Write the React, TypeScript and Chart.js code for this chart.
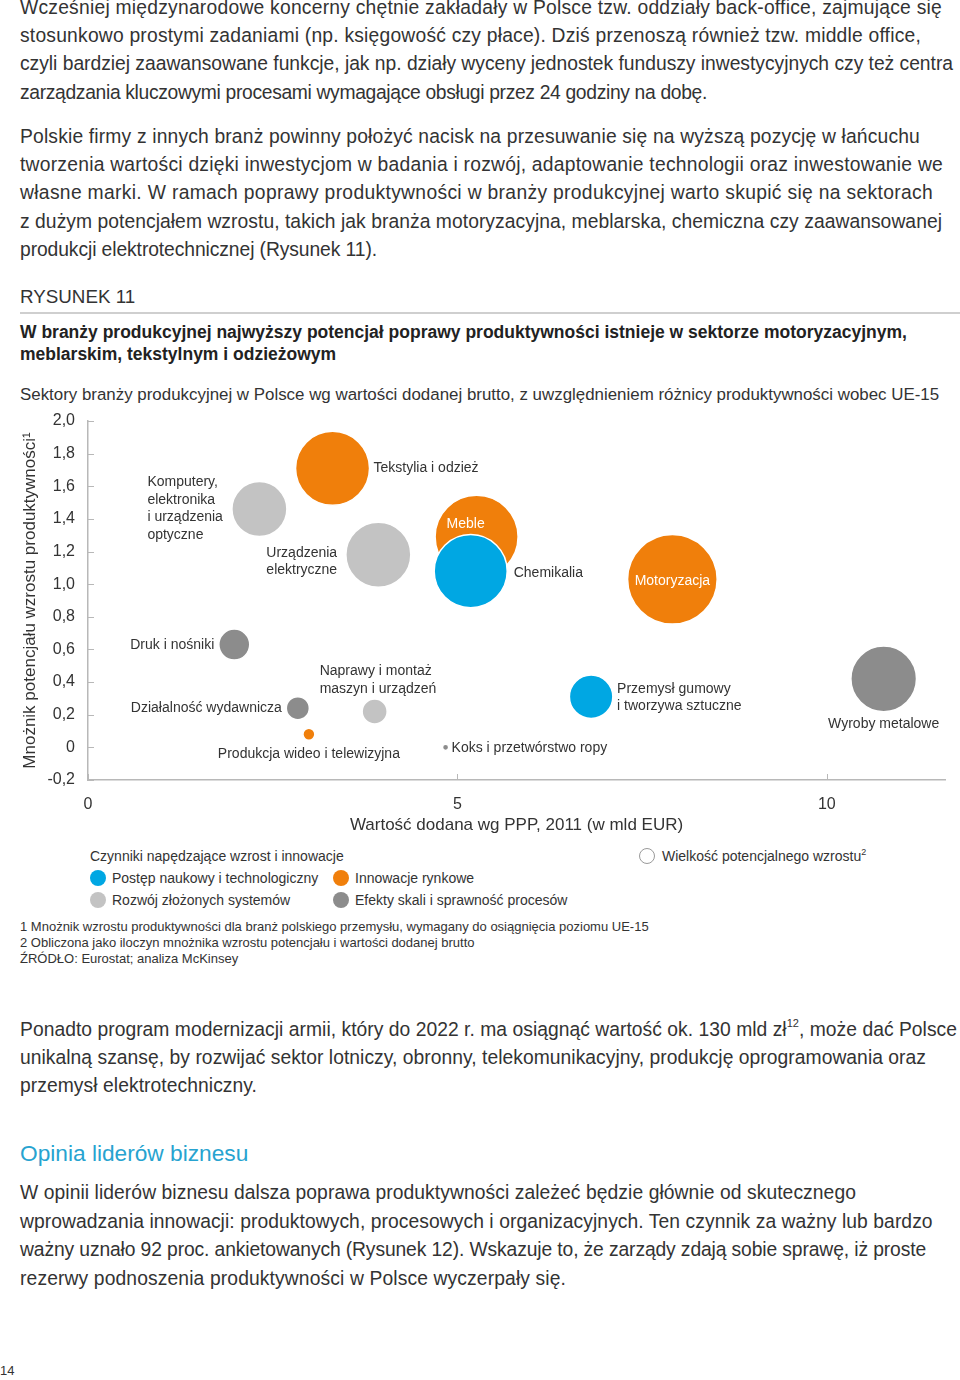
import React, { useEffect, useRef } from "react";
import { Chart, registerables } from "chart.js";

Chart.register(...registerables);

// ---------------- DATA ----------------
const sectorLabels: string[][] = [
  ["Tekstylia i odzież"],
  ["Komputery,", "elektronika", "i urządzenia", "optyczne"],
  ["Urządzenia", "elektryczne"],
  ["Meble"],
  ["Chemikalia"],
  ["Motoryzacja"],
  ["Druk i nośniki"],
  ["Działalność wydawnicza"],
  ["Naprawy i montaż", "maszyn i urządzeń"],
  ["Produkcja wideo i telewizyjna"],
  ["Koks i przetwórstwo ropy"],
  ["Przemysł gumowy", "i tworzywa sztuczne"],
  ["Wyroby metalowe"],
];
// Wartość dodana wg PPP, 2011 (mld EUR)
const valueAdded = [3.31, 2.32, 3.93, 5.26, 5.18, 7.91, 1.98, 2.84, 3.88, 2.99, 4.84, 6.81, 10.77];
// Mnożnik potencjału wzrostu produktywności
const multiplier = [1.71, 1.46, 1.18, 1.29, 1.08, 1.03, 0.63, 0.24, 0.22, 0.08, 0.0, 0.31, 0.42];
// Wielkość potencjalnego wzrostu
const growthPotential = [5.77, 3.19, 4.45, 7.26, 5.62, 8.46, 1.01, 0.56, 0.66, 0.15, 0.04, 1.99, 4.54];
// driver index: 0 = naukowy, 1 = rynkowe, 2 = systemy, 3 = skala
const driver = [1, 2, 2, 1, 0, 1, 3, 3, 2, 1, 3, 0, 3];
const driverNames = [
  "Postęp naukowy i technologiczny",
  "Innowacje rynkowe",
  "Rozwój złożonych systemów",
  "Efekty skali i sprawność procesów",
];
const yTickValues = [-0.2, 0, 0.2, 0.4, 0.6, 0.8, 1.0, 1.2, 1.4, 1.6, 1.8, 2.0];
const yTickLabels = ["-0,2", "0", "0,2", "0,4", "0,6", "0,8", "1,0", "1,2", "1,4", "1,6", "1,8", "2,0"];
const xTickValues = [0, 5, 10];
const xTickLabels = ["0", "5", "10"];

// ---------------- STYLE / LAYOUT ----------------
const driverColors = ["#00A7E3", "#F07F0B", "#C3C3C3", "#8C8C8C"];
const RADIUS_K = 15.4;
const labelLayout = [
  { dx: 41, dy: 0, align: "left" },
  { dx: -112, dy: -27, align: "left" },
  { dx: -112, dy: -2, align: "left" },
  { dx: -30, dy: -13, align: "left", inside: true },
  { dx: 43, dy: 2, align: "left" },
  { dx: 0, dy: 2, align: "center", inside: true },
  { dx: -20, dy: 1, align: "right" },
  { dx: -16, dy: 0, align: "right" },
  { dx: -55, dy: -40, align: "left" },
  { dx: 0, dy: 20, align: "center" },
  { dx: 6, dy: 1, align: "left" },
  { dx: 26, dy: -8, align: "left" },
  { dx: 0, dy: 45, align: "center" },
];
const FONT = '"Liberation Sans", Arial, Helvetica, sans-serif';
const TEXT = "#333333";
const AXIS = "#B8B8B8";

const bubbleLabels = {
  id: "bubbleLabels",
  afterDatasetsDraw(chart: any) {
    const { ctx } = chart;
    const xs = chart.scales.x;
    const ys = chart.scales.y;
    ctx.save();
    ctx.font = `14px ${FONT}`;
    ctx.textBaseline = "middle";
    sectorLabels.forEach((lines, i) => {
      const px = xs.getPixelForValue(valueAdded[i]);
      const py = ys.getPixelForValue(multiplier[i]);
      const L: any = labelLayout[i];
      ctx.fillStyle = L.inside ? "#FFFFFF" : TEXT;
      ctx.textAlign = L.align;
      lines.forEach((t, j) => ctx.fillText(t, px + L.dx, py + L.dy + j * 17.6));
    });
    ctx.restore();
  },
};

const innerTicks = {
  id: "innerTicks",
  afterDraw(chart: any) {
    const { ctx, chartArea } = chart;
    const xs = chart.scales.x;
    const ys = chart.scales.y;
    ctx.save();
    ctx.strokeStyle = AXIS;
    ctx.lineWidth = 1;
    yTickValues.forEach((v) => {
      const py = Math.round(ys.getPixelForValue(v)) + 0.5;
      ctx.beginPath();
      ctx.moveTo(chartArea.left, py);
      ctx.lineTo(chartArea.left + 6, py);
      ctx.stroke();
    });
    xTickValues.forEach((v) => {
      const px = Math.round(xs.getPixelForValue(v)) + 0.5;
      ctx.beginPath();
      ctx.moveTo(px, chartArea.bottom);
      ctx.lineTo(px, chartArea.bottom - 6);
      ctx.stroke();
    });
    ctx.restore();
  },
};

function BubbleChart() {
  const ref = useRef<HTMLCanvasElement | null>(null);
  useEffect(() => {
    if (!ref.current) return;
    const datasets = driverNames.map((name, d) => ({
      label: name,
      data: valueAdded
        .map((x, i) => ({ x, y: multiplier[i], r: RADIUS_K * Math.sqrt(growthPotential[i]), d: driver[i] }))
        .filter((p) => p.d === d),
      backgroundColor: driverColors[d],
      borderColor: "#FFFFFF",
      borderWidth: 1.5,
      hoverRadius: 0,
      clip: false,
    }));
    const chart = new Chart(ref.current, {
      type: "bubble",
      data: { datasets },
      plugins: [bubbleLabels, innerTicks],
      options: {
        animation: false,
        responsive: false,
        layout: { autoPadding: false, padding: { top: 16, right: 15, left: 0, bottom: 0 } },
        plugins: { legend: { display: false }, tooltip: { enabled: false } },
        scales: {
          x: {
            type: "linear",
            min: 0,
            max: 11.6,
            afterBuildTicks: (s: any) => {
              s.ticks = xTickValues.map((v) => ({ value: v }));
            },
            afterFit: (s: any) => {
              s.height = 60;
              s.paddingLeft = 0;
              s.paddingRight = 0;
            },
            grid: { display: true, drawOnChartArea: false, drawTicks: false },
            border: { display: true, color: AXIS, width: 1.5 },
            ticks: {
              padding: 15,
              color: TEXT,
              font: { family: FONT, size: 16 },
              callback: (_v: any, i: number) => xTickLabels[i],
            },
            title: {
              display: true,
              text: "Wartość dodana wg PPP, 2011 (w mld EUR)",
              color: TEXT,
              font: { family: FONT, size: 17 },
              padding: { top: 0, bottom: 4 },
            },
          },
          y: {
            type: "linear",
            min: -0.2,
            max: 2.0,
            afterBuildTicks: (s: any) => {
              s.ticks = yTickValues.map((v) => ({ value: v }));
            },
            afterFit: (s: any) => {
              s.width = 88;
              s.paddingTop = 0;
              s.paddingBottom = 0;
            },
            grid: { display: true, drawOnChartArea: false, drawTicks: false },
            border: { display: true, color: AXIS, width: 1.5 },
            ticks: {
              padding: 13,
              color: TEXT,
              font: { family: FONT, size: 16 },
              callback: (_v: any, i: number) => yTickLabels[i],
            },
            title: {
              display: true,
              text: "Mnożnik potencjału wzrostu produktywności¹",
              color: TEXT,
              font: { family: FONT, size: 17 },
              padding: { top: 20, bottom: 0 },
            },
          },
        },
      } as any,
    });
    return () => chart.destroy();
  }, []);
  return (
    <canvas
      ref={ref}
      width={960}
      height={435}
      style={{ position: "absolute", left: 0, top: 405, width: 960, height: 435 }}
    />
  );
}

let measureCtx: CanvasRenderingContext2D | null = null;
function measure(text: string, size: number): number {
  if (!measureCtx) measureCtx = document.createElement("canvas").getContext("2d");
  if (!measureCtx) return 0;
  measureCtx.font = `${size}px ${FONT}`;
  return measureCtx.measureText(text).width;
}

function T(props: { x?: number; y: number; size: number; children: any; style?: any }) {
  const { x = 20, y, size, children, style } = props;
  return (
    <div
      style={{
        position: "absolute",
        left: x,
        top: y,
        fontSize: size,
        lineHeight: 1,
        transform: "translateY(-50%)",
        whiteSpace: "nowrap",
        color: TEXT,
        fontFamily: FONT,
        ...style,
      }}
    >
      {children}
    </div>
  );
}

// body line fitted to the reference's right edge via letter-spacing
function FitLine({ y, size, text, right }: { y: number; size: number; text: string; right: number }) {
  const w = measure(text, size);
  const ls = (right - 20 - w) / text.length;
  return (
    <T y={y} size={size} style={{ letterSpacing: ls }}>
      {text}
    </T>
  );
}

function Dot({ x, y, color, hollow }: { x: number; y: number; color?: string; hollow?: boolean }) {
  return (
    <div
      style={{
        position: "absolute",
        left: x - 8,
        top: y - 8,
        width: 16,
        height: 16,
        borderRadius: "50%",
        boxSizing: "border-box",
        background: hollow ? "#FFFFFF" : color,
        border: hollow ? "1px solid #9A9A9A" : "none",
      }}
    />
  );
}

const para1 = [
  "Wcześniej międzynarodowe koncerny chętnie zakładały w Polsce tzw. oddziały back-office, zajmujące się",
  "stosunkowo prostymi zadaniami (np. księgowość czy płace). Dziś przenoszą również tzw. middle office,",
  "czyli bardziej zaawansowane funkcje, jak np. działy wyceny jednostek funduszy inwestycyjnych czy też centra",
  "zarządzania kluczowymi procesami wymagające obsługi przez 24 godziny na dobę.",
];
const para1Right = [942, 921, 953, 707];
const para2 = [
  "Polskie firmy z innych branż powinny położyć nacisk na przesuwanie się na wyższą pozycję w łańcuchu",
  "tworzenia wartości dzięki inwestycjom w badania i rozwój, adaptowanie technologii oraz inwestowanie we",
  "własne marki. W ramach poprawy produktywności w branży produkcyjnej warto skupić się na sektorach",
  "z dużym potencjałem wzrostu, takich jak branża motoryzacyjna, meblarska, chemiczna czy zaawansowanej",
  "produkcji elektrotechnicznej (Rysunek 11).",
];
const para2Right = [920, 943, 933, 942, 377];
const para3 = [
  "unikalną szansę, by rozwijać sektor lotniczy, obronny, telekomunikacyjny, produkcję oprogramowania oraz",
  "przemysł elektrotechniczny.",
];
const para3Right = [926, 257];
const para4 = [
  "W opinii liderów biznesu dalsza poprawa produktywności zależeć będzie głównie od skutecznego",
  "wprowadzania innowacji: produktowych, procesowych i organizacyjnych. Ten czynnik za ważny lub bardzo",
  "ważny uznało 92 proc. ankietowanych (Rysunek 12). Wskazuje to, że zarządy zdają sobie sprawę, iż proste",
  "rezerwy podnoszenia produktywności w Polsce wyczerpały się.",
];
const para4Right = [856, 933, 926, 566];

export default function App() {
  const LH = 28.2;
  const BODY = 19.3;
  const p3a = "Ponadto program modernizacji armii, który do 2022 r. ma osiągnąć wartość ok. 130 mld zł";
  const p3b = ", może dać Polsce";
  const p3w = measure(p3a + p3b, BODY) + measure("12", 11);
  const p3ls = (957 - 20 - p3w) / (p3a.length + p3b.length + 2);
  return (
    <div style={{ position: "absolute", left: 0, top: 0, width: 960, height: 1380, background: "#FFFFFF", overflow: "hidden" }}>
      {para1.map((t, i) => (
        <FitLine key={"a" + i} y={8 + i * LH} size={BODY} text={t} right={para1Right[i]} />
      ))}
      {para2.map((t, i) => (
        <FitLine key={"b" + i} y={137 + i * LH} size={BODY} text={t} right={para2Right[i]} />
      ))}
      <T y={297} size={18.8}>RYSUNEK 11</T>
      <div style={{ position: "absolute", left: 20, top: 312, width: 940, height: 2, background: "#CFCFCF" }} />
      <T y={333} size={17.5} style={{ fontWeight: "bold", color: "#222" }}>
        W branży produkcyjnej najwyższy potencjał poprawy produktywności istnieje w sektorze motoryzacyjnym,
      </T>
      <T y={355} size={17.5} style={{ fontWeight: "bold", color: "#222" }}>
        meblarskim, tekstylnym i odzieżowym
      </T>
      <T y={395} size={16.9}>
        Sektory branży produkcyjnej w Polsce wg wartości dodanej brutto, z uwzględnieniem różnicy produktywności wobec UE-15
      </T>

      <BubbleChart />

      <T x={90} y={856} size={14}>Czynniki napędzające wzrost i innowacje</T>
      <Dot x={98} y={878} color={driverColors[0]} />
      <T x={112} y={878} size={14}>{driverNames[0]}</T>
      <Dot x={341} y={878} color={driverColors[1]} />
      <T x={355} y={878} size={14}>{driverNames[1]}</T>
      <Dot x={98} y={900} color={driverColors[2]} />
      <T x={112} y={900} size={14}>{driverNames[2]}</T>
      <Dot x={341} y={900} color={driverColors[3]} />
      <T x={355} y={900} size={14}>{driverNames[3]}</T>
      <Dot x={647} y={856} hollow />
      <T x={662} y={856} size={14}>
        Wielkość potencjalnego wzrostu<sup style={{ fontSize: 9, verticalAlign: "top", position: "relative", top: -1 }}>2</sup>
      </T>

      <T y={926} size={13}>1 Mnożnik wzrostu produktywności dla branż polskiego przemysłu, wymagany do osiągnięcia poziomu UE-15</T>
      <T y={942} size={13}>2 Obliczona jako iloczyn mnożnika wzrostu potencjału i wartości dodanej brutto</T>
      <T y={958} size={13}>ŹRÓDŁO: Eurostat; analiza McKinsey</T>

      <T y={1030} size={BODY} style={{ letterSpacing: p3ls }}>
        {p3a}
        <sup style={{ fontSize: 11, verticalAlign: "top", position: "relative", top: -2 }}>12</sup>
        {p3b}
      </T>
      {para3.map((t, i) => (
        <FitLine key={"c" + i} y={1058 + i * LH} size={BODY} text={t} right={para3Right[i]} />
      ))}

      <T y={1153} size={22.7} style={{ color: "#27A3D0" }}>Opinia liderów biznesu</T>
      {para4.map((t, i) => (
        <FitLine key={"d" + i} y={1193 + i * 28.6} size={BODY} text={t} right={para4Right[i]} />
      ))}
      <T x={0} y={1370} size={13}>14</T>
    </div>
  );
}
